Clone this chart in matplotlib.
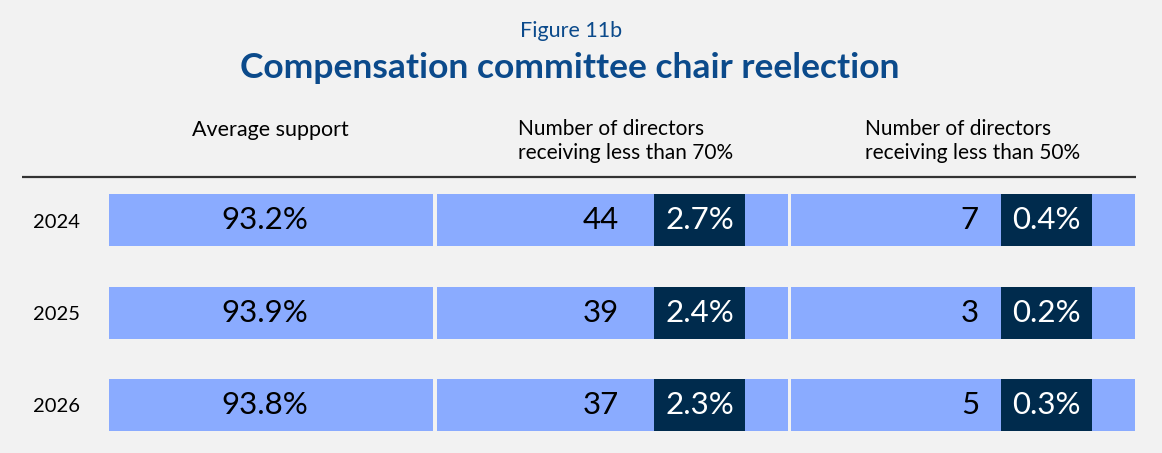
import matplotlib
matplotlib.use("Agg")
import matplotlib.pyplot as plt

plt.rcParams['font.family'] = ['Lato', 'DejaVu Sans']

# data
years = ['2024', '2025', '2026']
avg_support = ['93.2%', '93.9%', '93.8%']
n_below70 = [44, 39, 37]
pct_below70 = ['2.7%', '2.4%', '2.3%']
n_below50 = [7, 3, 5]
pct_below50 = ['0.4%', '0.2%', '0.3%']
headers = ['Average support',
           'Number of directors\nreceiving less than 70%',
           'Number of directors\nreceiving less than 50%']

LIGHT = '#8aabff'
NAVY = '#002b4d'
TITLE = '#0b4a8b'
BG = '#f2f2f2'

fig = plt.figure(figsize=(11.62, 4.53), dpi=100, facecolor=BG)
ax = fig.add_axes([0, 0, 1, 1])
ax.set_facecolor(BG)
ax.set_xlim(0, 1162)
ax.set_ylim(453, 0)
ax.axis('off')

fig.text(571 / 1162, 1 - 31 / 453, 'Figure 11b', ha='center', va='center',
         fontsize=15.5, color=TITLE)
fig.text(570 / 1162, 1 - 68 / 453, 'Compensation committee chair reelection',
         ha='center', va='center', fontsize=25.5, fontweight='bold', color=TITLE)

# columns (left, right)
cols = [(109, 433), (437, 788), (791, 1135)]
row_y = [220, 313, 405]
bar_h = 52
box_w = 91
box_gap = 43
num_gap = [35, 22]

ax.text(270, 130, headers[0], ha='center', va='center', fontsize=15.5)
ax.text(518, 141, headers[1], ha='left', va='center', fontsize=15,
        linespacing=1.2)
ax.text(865, 141, headers[2], ha='left', va='center', fontsize=15,
        linespacing=1.2)
ax.plot([22, 1136], [177, 177], color='#333333', lw=1.6,
        solid_capstyle='butt')

for i, yr in enumerate(years):
    y = row_y[i]
    ax.text(57, y + 2, yr, ha='center', va='center', fontsize=14.5)
    for (l, r) in cols:
        ax.barh(y, r - l, left=l, height=bar_h, color=LIGHT)
    l, r = cols[0]
    ax.text((l + r) / 2 - 6, y, avg_support[i], ha='center', va='center',
            fontsize=22.5)
    for k, ((l, r), n, p) in enumerate([(cols[1], n_below70[i], pct_below70[i]),
                                        (cols[2], n_below50[i], pct_below50[i])]):
        bx = r - box_gap - box_w
        ax.barh(y, box_w, left=bx, height=bar_h, color=NAVY)
        ax.text(bx + box_w / 2, y, p, ha='center', va='center',
                fontsize=22.5, color='white')
        ax.text(bx - num_gap[k], y, str(n), ha='right', va='center',
                fontsize=22.5)

fig.savefig('out.png', dpi=100, facecolor=BG)
